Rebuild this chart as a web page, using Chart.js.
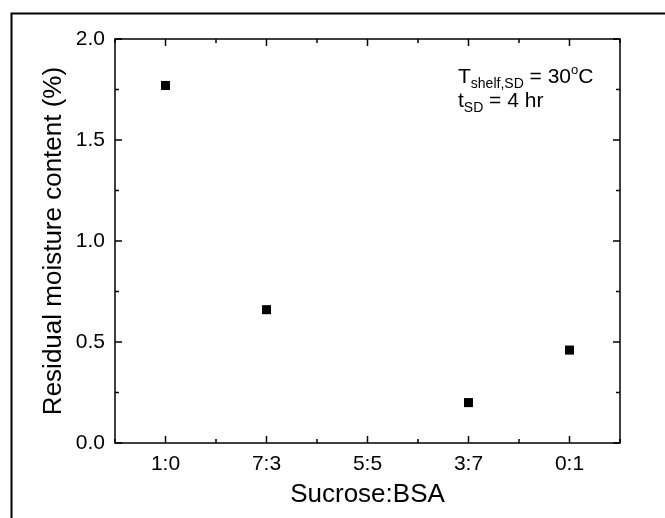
<!DOCTYPE html>
<html lang="en">
<head>
    <meta charset="UTF-8">
    <title>Residual moisture</title>
    <script src="https://cdn.jsdelivr.net/npm/chart.js@4.4.0/dist/chart.umd.min.js"></script>
    <style>
        html, body { margin: 0; padding: 0; background: #fff; }
        #wrap { width: 665px; height: 518px; position: relative; }
    </style>
</head>
<body>
    <div id="wrap"><canvas id="myChart" width="665" height="518"></canvas></div>
    <script>
        // data
        const categories = ['1:0', '7:3', '5:5', '3:7', '0:1'];
        const moisture = [1.77, 0.66, null, 0.20, 0.46];
        const yTicks = [0, 0.5, 1.0, 1.5, 2.0];

        const FONT = 'Arial, "Liberation Sans", sans-serif';

        const points = [];
        categories.forEach((c, i) => {
            if (moisture[i] !== null) points.push({x: i + 1, y: moisture[i]});
        });

        // inward ticks on all four sides + box + outer frame + annotation
        const framePlugin = {
            id: 'frame',
            beforeDraw(chart) {
                const ctx = chart.ctx;
                ctx.save();
                ctx.fillStyle = '#fff';
                ctx.fillRect(0, 0, chart.width, chart.height);
                ctx.strokeStyle = '#000';
                ctx.lineWidth = 2;
                ctx.beginPath();
                ctx.moveTo(11.5, chart.height);
                ctx.lineTo(11.5, 13.5);
                ctx.lineTo(chart.width, 13.5);
                ctx.stroke();
                ctx.restore();
            },
            afterDraw(chart) {
                const ctx = chart.ctx;
                const a = chart.chartArea;
                const xs = chart.scales.x, ys = chart.scales.y;
                ctx.save();
                ctx.strokeStyle = '#000';
                ctx.lineWidth = 1.5;
                ctx.strokeRect(a.left, a.top, a.right - a.left, a.bottom - a.top);

                ctx.beginPath();
                for (let v = 0.5; v <= 5.5; v += 0.5) {
                    const px = xs.getPixelForValue(v);
                    const len = Number.isInteger(v) ? 7 : 4;
                    ctx.moveTo(px, a.bottom); ctx.lineTo(px, a.bottom - len);
                    ctx.moveTo(px, a.top); ctx.lineTo(px, a.top + len);
                }
                for (let v = 0; v <= 2.0001; v += 0.25) {
                    const py = ys.getPixelForValue(v);
                    const len = Math.abs(v * 2 - Math.round(v * 2)) < 1e-6 ? 7 : 4;
                    ctx.moveTo(a.left, py); ctx.lineTo(a.left + len, py);
                    ctx.moveTo(a.right, py); ctx.lineTo(a.right - len, py);
                }
                ctx.stroke();

                // annotation
                ctx.fillStyle = '#000';
                ctx.textBaseline = 'alphabetic';
                ctx.textAlign = 'left';
                let x = 458;
                const put = (txt, size, base) => {
                    ctx.font = size + 'px ' + FONT;
                    ctx.fillText(txt, x, base);
                    x += ctx.measureText(txt).width;
                };
                put('T', 21, 83);
                put('shelf,SD', 14, 88);
                put(' = 30', 21, 83);
                put('o', 13, 74);
                put('C', 21, 83);
                x = 458;
                put('t', 21, 107);
                put('SD', 14, 112);
                put(' = 4 hr', 21, 107);
                ctx.restore();
            }
        };

        const ctx = document.getElementById('myChart').getContext('2d');
        const myChart = new Chart(ctx, {
            type: 'scatter',
            data: {
                datasets: [{
                    label: 'Residual moisture',
                    data: points,
                    pointStyle: 'rect',
                    pointRadius: 6.4,
                    pointHoverRadius: 6.4,
                    backgroundColor: '#000',
                    borderColor: '#000',
                    borderWidth: 0
                }]
            },
            plugins: [framePlugin],
            options: {
                responsive: false,
                animation: false,
                events: [],
                layout: { padding: { left: 0, top: 39, right: 45, bottom: 0 } },
                plugins: {
                    legend: { display: false },
                    tooltip: { enabled: false }
                },
                scales: {
                    x: {
                        type: 'linear',
                        min: 0.5,
                        max: 5.5,
                        afterBuildTicks: s => { s.ticks = categories.map((c, i) => ({value: i + 1})); },
                        afterFit: s => { s.height = 75; },
                        grid: { display: false, drawTicks: false },
                        border: { display: false },
                        ticks: {
                            color: '#000',
                            font: { family: FONT, size: 21 },
                            padding: 9,
                            maxRotation: 0,
                            callback: v => categories[Math.round(v) - 1]
                        },
                        title: {
                            display: true,
                            text: 'Sucrose:BSA',
                            color: '#000',
                            font: { family: FONT, size: 26 },
                            padding: { top: 0, bottom: 8 }
                        }
                    },
                    y: {
                        min: 0,
                        max: 2.0,
                        afterBuildTicks: s => { s.ticks = yTicks.map(v => ({value: v})); },
                        afterFit: s => { s.width = 115; },
                        grid: { display: false, drawTicks: false },
                        border: { display: false },
                        ticks: {
                            color: '#000',
                            font: { family: FONT, size: 21 },
                            padding: 10,
                            callback: v => v.toFixed(1)
                        },
                        title: {
                            display: true,
                            text: 'Residual moisture content (%)',
                            color: '#000',
                            font: { family: FONT, size: 26 },
                            padding: { top: 38, bottom: 0 }
                        }
                    }
                }
            }
        });
    </script>
</body>
</html>
